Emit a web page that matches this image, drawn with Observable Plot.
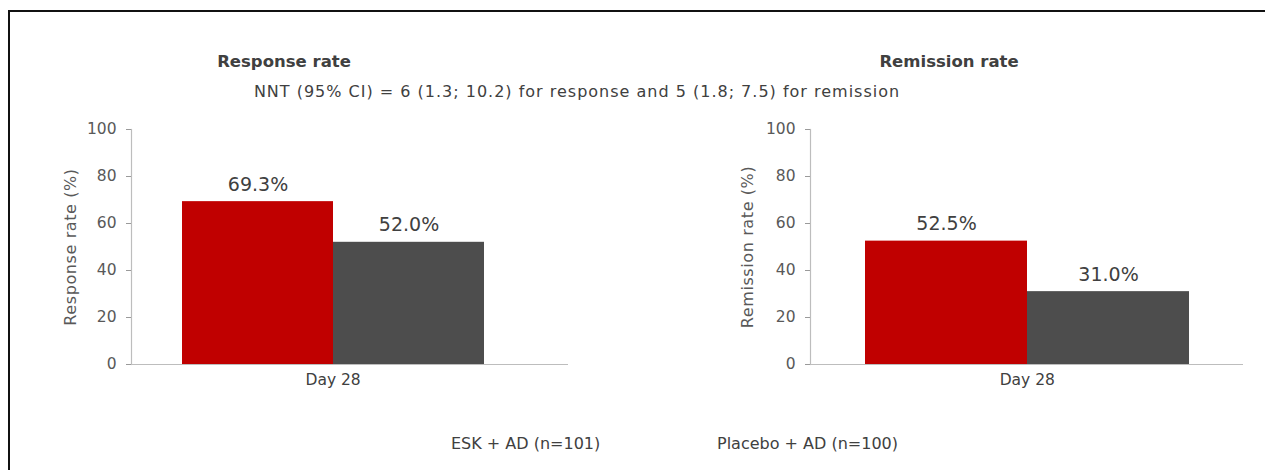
<!DOCTYPE html>
<html><head><meta charset="utf-8">
<script src="https://cdn.jsdelivr.net/npm/d3@7"></script>
<script src="https://cdn.jsdelivr.net/npm/@observablehq/plot@0.6"></script>
<style>
html,body{margin:0;overflow:hidden}
body{background:#fff;width:1265px;height:470px;position:relative;font-family:"DejaVu Sans",Verdana,sans-serif;color:#404040}
#frameTop{position:absolute;left:8px;top:10px;width:1257px;height:2px;background:#111}
#frameLeft{position:absolute;left:8px;top:10px;width:2px;height:460px;background:#111}
.t{position:absolute;white-space:nowrap;line-height:1}
.panel{position:absolute;top:0}
</style></head><body>
<div id="frameTop"></div><div id="frameLeft"></div>
<script>
// ---- data ----
const series = ["ESK + AD (n=101)", "Placebo + AD (n=100)"];
const seriesColors = ["#C00000", "#4D4D4D"];
const day = "Day 28";
const responseValues = [69.3, 52.0];
const remissionValues = [52.5, 31.0];
const yTicks = [0, 20, 40, 60, 80, 100];
const panelTitles = ["Response rate", "Remission rate"];
const yLabels = ["Response rate (%)", "Remission rate (%)"];
const subtitle = "NNT (95% CI) = 6 (1.3; 10.2) for response and 5 (1.8; 7.5) for remission";

function addText(text, css) {
  const d = document.createElement("div");
  d.className = "t";
  d.textContent = text;
  Object.assign(d.style, css);
  document.body.appendChild(d);
  return d;
}

function panel({values, ylabel, left, width, marginLeft, marginRight, xRange, labelDx}) {
  const data = series.map((s, i) => ({series: s, value: values[i], day}));
  const half = (xRange[1] - xRange[0]) / series.length / 2;
  const chart = Plot.plot({
    width, height: 400,
    marginLeft, marginRight, marginTop: 129, marginBottom: 36,
    style: {fontFamily: "DejaVu Sans, Verdana, sans-serif", color: "#595959", background: "transparent", overflow: "visible"},
    x: {type: "band", domain: series, range: xRange, padding: 0, axis: null},
    y: {domain: [0, 100], axis: null},
    color: {domain: series, range: seriesColors},
    marks: [
      Plot.barY(data, {x: "series", y: "value", fill: "series"}),
      Plot.ruleY([0], {stroke: "#BDBDBD", strokeWidth: 1.2}),
      Plot.frame({anchor: "left", stroke: "#BDBDBD", strokeWidth: 1.2}),
      Plot.axisY(yTicks, {tickSize: 5, tickPadding: 10, fontSize: 15.5, stroke: "#9A9A9A", fill: "#595959", label: null}),
      Plot.text([ylabel], {frameAnchor: "left", textAnchor: "middle", rotate: -90, dx: labelDx, fontSize: 16, fill: "#595959", style: {letterSpacing: "0.6px"}}),
      Plot.text(data, {x: "series", y: "value", text: d => d.value.toFixed(1) + "%", dy: -11, lineAnchor: "bottom", fontSize: 19, fill: "#404040"}),
      Plot.text([day], {x: () => series[1], dx: -half, frameAnchor: "bottom", lineAnchor: "top", dy: 9, fontSize: 15.5, fill: "#404040"})
    ]
  });
  chart.classList.add("panel");
  chart.style.left = left + "px";
  chart.querySelectorAll("text").forEach(t => { if (yLabels.includes(t.textContent)) t.style.letterSpacing = "0.6px"; });
  document.body.appendChild(chart);
}

panel({values: responseValues, ylabel: yLabels[0], left: 0, width: 620, marginLeft: 131, marginRight: 52, xRange: [180.7, 484.3], labelDx: -61});
panel({values: remissionValues, ylabel: yLabels[1], left: 640, width: 625, marginLeft: 170, marginRight: 22, xRange: [224.3, 549.3], labelDx: -63});

// titles
addText(panelTitles[0], {left: "134px", width: "300px", textAlign: "center", top: "54px", fontSize: "16.5px", fontWeight: "bold"});
addText(panelTitles[1], {left: "799px", width: "300px", textAlign: "center", top: "54px", fontSize: "16.5px", fontWeight: "bold"});
addText(subtitle, {left: "177px", width: "800px", textAlign: "center", top: "83.5px", fontSize: "16px", letterSpacing: "1px", color: "#404040"});

// legend (text only, as in the reference)
const legendX = [451, 717];
series.forEach((s, i) => addText(s, {left: legendX[i] + "px", top: "435.5px", fontSize: "16px", color: "#404040"}));
</script>
</body></html>
